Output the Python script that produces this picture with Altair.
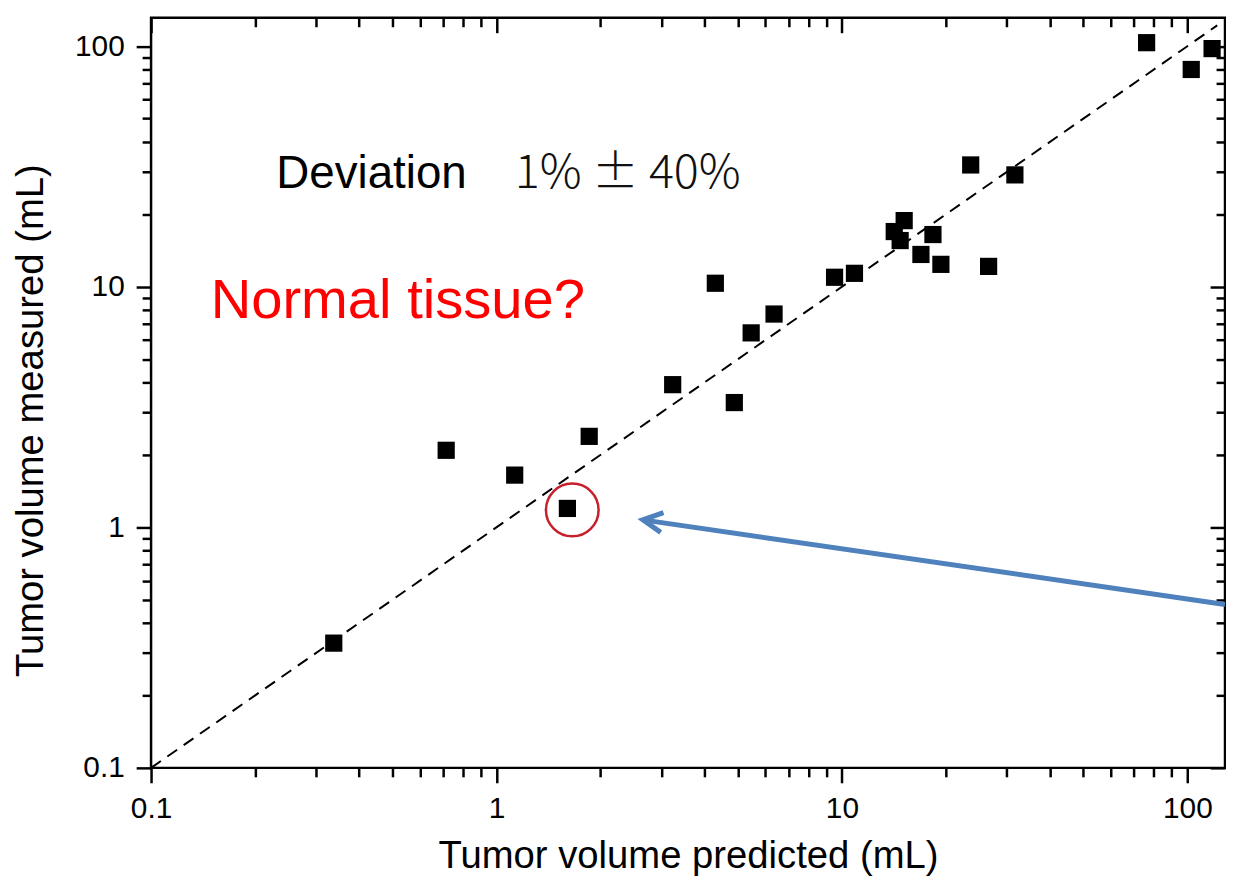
import altair as alt
import pandas as pd

# ---- data ----
predicted = [0.338, 0.715, 1.129, 1.604, 1.855, 3.236, 4.30, 4.88, 5.46, 6.36,
             9.52, 10.87, 14.17, 14.74, 15.14, 16.93, 18.34, 19.34, 23.59, 26.58,
             31.67, 76.2, 102.6, 117.9]
measured = [0.330, 2.09, 1.648, 1.198, 2.388, 3.917, 10.34, 3.30, 6.43, 7.70,
            10.95, 11.37, 16.96, 15.56, 18.83, 13.62, 16.48, 12.39, 32.08, 12.15,
            29.17, 103.4, 80.0, 97.7]

major_ticks = [0.1, 1, 10, 100]
minor_ticks = [0.2, 0.3, 0.4, 0.5, 0.6, 0.7, 0.8, 0.9,
               2, 3, 4, 5, 6, 7, 8, 9,
               20, 30, 40, 50, 60, 70, 80, 90]

identity_x = [0.1, 122]
identity_y = [0.1, 122]

circle_x = [1.657]
circle_y = [1.181]

arrow_x = [2.652, 128.5]
arrow_y = [1.074, 0.478]
head_x = [2.652]
head_y = [1.074]

dev_label = ["Deviation"]
dev_x = [0.2304]
dev_y = [29.44]
pct_label = ["1% \u00b1 40%"]
pct_x = [1.129]
pct_y = [29.44]
normal_label = ["Normal tissue?"]
normal_x = [0.1488]
normal_y = [8.71]

X_DOMAIN = [0.1, 128.5]
Y_DOMAIN = [0.1, 131.2]
W, H = 1081, 755
FONT = "Liberation Sans"

xs = alt.Scale(type="log", domain=X_DOMAIN, nice=False)
ys = alt.Scale(type="log", domain=Y_DOMAIN, nice=False)

pts = pd.DataFrame({"x": predicted, "y": measured})
ident = pd.DataFrame({"x": identity_x, "y": identity_y})
circ = pd.DataFrame({"x": circle_x, "y": circle_y})
arr = pd.DataFrame({"x": arrow_x, "y": arrow_y})
head = pd.DataFrame({"x": head_x, "y": head_y})
dev = pd.DataFrame({"x": dev_x, "y": dev_y, "t": dev_label})
pct = pd.DataFrame({"x": pct_x, "y": pct_y, "t": pct_label})
nor = pd.DataFrame({"x": normal_x, "y": normal_y, "t": normal_label})


def ax(orient, values, size, labels=False, offset=0, **kw):
    return alt.Axis(orient=orient, values=values, tickSize=size, labels=labels,
                    offset=offset, domain=False, grid=False, tickColor="black",
                    tickWidth=2.5, title="", **kw)


# identity dashed line -> minor ticks bottom / left
dashed = alt.Chart(ident).mark_line(color="black", strokeDash=[12, 8], strokeWidth=2).encode(
    x=alt.X("x:Q", scale=xs, axis=ax("bottom", minor_ticks, 9)),
    y=alt.Y("y:Q", scale=ys, axis=ax("left", minor_ticks, 9)),
)

# scatter -> major ticks with labels and titles
scatter = alt.Chart(pts).mark_square(size=300, color="black", opacity=1).encode(
    x=alt.X("x:Q", scale=xs, axis=alt.Axis(
        orient="bottom", values=major_ticks, tickSize=15, tickWidth=2.5, tickColor="black",
        domain=False, grid=False, format="~g", labelFlush=False, labelOverlap=False,
        labelPadding=11, labelFontSize=30, labelFont=FONT, labelColor="black",
        title="Tumor volume predicted (mL)", titleFont=FONT, titleFontSize=38.5,
        titleFontWeight="normal", titleColor="black", titleX=W / 2, titleY=88,
        titleBaseline="middle", titleAlign="center")),
    y=alt.Y("y:Q", scale=ys, axis=alt.Axis(
        orient="left", values=major_ticks, tickSize=15, tickWidth=2.5, tickColor="black",
        domain=False, grid=False, format="~g", labelFlush=False, labelOverlap=False,
        labelPadding=12, labelFontSize=30, labelFont=FONT, labelColor="black",
        title="Tumor volume measured (mL)", titleFont=FONT, titleFontSize=38.5,
        titleFontWeight="normal", titleColor="black", titleX=-121, titleY=405,
        titleAngle=270, titleBaseline="middle", titleAlign="center")),
)

# red circle -> inward major ticks top / right
circle = alt.Chart(circ).mark_point(shape="circle", size=2809, filled=False,
                                    color="#c8202a", strokeWidth=2.5, opacity=1).encode(
    x=alt.X("x:Q", scale=xs, axis=ax("top", major_ticks, 15, offset=-15)),
    y=alt.Y("y:Q", scale=ys, axis=ax("right", major_ticks, 15, offset=-15)),
)

# blue arrow shaft -> inward minor ticks top / right
arrow = alt.Chart(arr).mark_line(color="#4f81bd", strokeWidth=5).encode(
    x=alt.X("x:Q", scale=xs, axis=ax("top", minor_ticks, 9, offset=-9)),
    y=alt.Y("y:Q", scale=ys, axis=ax("right", minor_ticks, 9, offset=-9)),
)

arrow_head = alt.Chart(head).mark_point(
    shape="M 1.96 -1 L 0 0 L 1.96 1", size=400, filled=False, color="#4f81bd",
    strokeWidth=5, opacity=1, angle=8, strokeJoin="miter").encode(
    x=alt.X("x:Q", scale=xs, axis=None),
    y=alt.Y("y:Q", scale=ys, axis=None),
)

dev_text = alt.Chart(dev).mark_text(align="left", baseline="middle", font=FONT,
                                    fontSize=46, color="black").encode(
    x=alt.X("x:Q", scale=xs, axis=None), y=alt.Y("y:Q", scale=ys, axis=None), text="t:N")

pct_text = alt.Chart(pct).mark_text(align="left", baseline="middle", font="Noto Sans CJK JP",
                                    fontSize=47, fontWeight=300, color="#111111").encode(
    x=alt.X("x:Q", scale=xs, axis=None), y=alt.Y("y:Q", scale=ys, axis=None), text="t:N")

normal_text = alt.Chart(nor).mark_text(align="left", baseline="middle", font=FONT,
                                       fontSize=56.5, color="#ff0000").encode(
    x=alt.X("x:Q", scale=xs, axis=None), y=alt.Y("y:Q", scale=ys, axis=None), text="t:N")

chart = alt.layer(
    dashed, scatter, circle, arrow, arrow_head, dev_text, pct_text, normal_text
).resolve_axis(
    x="independent", y="independent"
).properties(
    width=W, height=H,
    autosize=alt.AutoSizeParams(type="none"),
    padding={"left": 144, "top": 7, "right": 1, "bottom": 110},
    background="white",
).configure_view(
    stroke="black", strokeWidth=2.5
)

chart.save("out.html", embed_options={"renderer": "svg", "actions": False})
